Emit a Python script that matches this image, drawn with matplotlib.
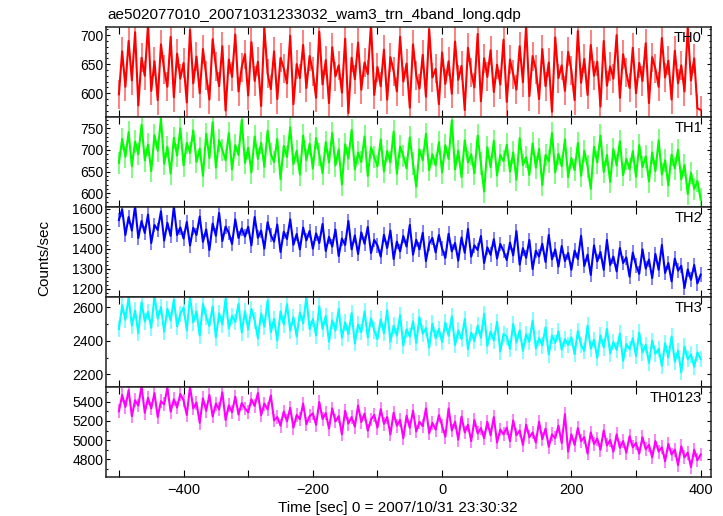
import matplotlib
matplotlib.use('Agg')
import matplotlib.pyplot as plt
from matplotlib.ticker import MultipleLocator
import numpy as np

plt.rcParams['font.family'] = ['Liberation Sans', 'DejaVu Sans']

# ---------------------------------------------------------------------------
# data (count rates, one value every 5 s)
# ---------------------------------------------------------------------------
t_start = -500
t_step = 5

th0 = [
    598, 672, 611, 690, 622, 705, 579, 661, 630, 718, 604, 655, 588, 684, 640, 611, 697, 593, 668, 625,
    652, 584, 709, 617, 663, 600, 676, 631, 589, 693, 646, 612, 681, 570, 658, 628, 701, 603, 645, 667,
    596, 688, 621, 654, 578, 712, 634, 607, 672, 590, 661, 643, 617, 699, 581, 650, 626, 683, 609, 664,
    637, 592, 706, 615, 657, 583, 679, 629, 648, 601, 694, 566, 661, 624, 687, 606, 653, 633, 719, 597,
    645, 612, 675, 589, 662, 638, 603, 697, 620, 651, 575, 684, 631, 608, 666, 594, 710, 627, 642, 581,
    670, 616, 655, 599, 689, 623, 647, 571, 678, 636, 610, 702, 586, 660, 628, 674, 602, 649, 615, 692,
    585, 658, 633, 606, 681, 619, 716, 595, 664, 641, 590, 676, 612, 653, 568, 696, 626, 648, 604, 671,
    639, 588, 707, 618, 659, 597, 683, 630, 654, 577, 690, 613, 646, 625, 700, 592, 667, 635, 609, 678,
    600, 652, 621, 686, 583, 662, 642, 611, 695, 627, 656, 589, 673, 617, 648, 603, 713, 622, 660, 574,
    571,
]

th1 = [
    670, 725, 684, 741, 662, 719, 690, 758, 676, 712, 651, 734, 698, 772, 668, 707, 645, 728, 687, 750,
    664, 716, 693, 745, 672, 703, 640, 737, 681, 764, 659, 722, 700, 676, 739, 655, 711, 688, 769, 670,
    705, 648, 731, 679, 716, 661, 744, 690, 672, 725, 632, 709, 684, 752, 667, 698, 643, 733, 676, 714,
    657, 727, 689, 646, 718, 671, 739, 664, 701, 620, 713, 680, 746, 655, 694, 672, 731, 640, 706, 683,
    662, 724, 650, 697, 671, 742, 645, 708, 686, 657, 729, 668, 615, 701, 676, 737, 653, 690, 664, 718,
    648, 711, 679, 768, 655, 698, 637, 722, 671, 690, 646, 733, 668, 604, 706, 660, 721, 641, 688, 674,
    712, 650, 694, 631, 727, 665, 683, 642, 715, 659, 702, 619, 688, 673, 739, 648, 691, 662, 724, 637,
    681, 653, 716, 640, 698, 662, 610, 707, 671, 733, 649, 688, 626, 702, 664, 720, 642, 679, 655, 697,
    638, 711, 660, 685, 627, 694, 651, 722, 643, 676, 618, 689, 657, 700, 632, 665, 598, 647, 610, 628,
    585,
]

th2 = [
    1545, 1598, 1470, 1560, 1492, 1615, 1455, 1540, 1480, 1572, 1430, 1520, 1495, 1588, 1442, 1531, 1465, 1612, 1470, 1508,
    1452, 1535, 1418, 1506, 1470, 1562, 1436, 1498, 1395, 1527, 1466, 1580, 1440, 1512, 1480, 1425, 1548, 1455, 1503, 1462,
    1511, 1418, 1560, 1456, 1492, 1402, 1534, 1470, 1437, 1522, 1385, 1486, 1450, 1548, 1421, 1475, 1398, 1507, 1443, 1490,
    1402, 1478, 1430, 1525, 1390, 1461, 1412, 1497, 1365, 1452, 1420, 1540, 1398, 1468, 1375, 1483, 1426, 1510, 1380, 1445,
    1418, 1362, 1471, 1405, 1492, 1350, 1437, 1388, 1465, 1412, 1520, 1372, 1446, 1398, 1481, 1340, 1426, 1455, 1383, 1470,
    1402, 1355, 1476, 1388, 1430, 1342, 1458, 1381, 1500, 1362, 1418, 1395, 1465, 1330, 1408, 1371, 1449, 1352, 1425, 1390,
    1345, 1432, 1368, 1489, 1322, 1404, 1356, 1445, 1300, 1391, 1362, 1426, 1335, 1470, 1348, 1398, 1312, 1415, 1340, 1380,
    1296, 1392, 1350, 1466, 1315, 1372, 1270, 1418, 1338, 1385, 1296, 1445, 1320, 1362, 1288, 1405, 1330, 1358, 1262, 1382,
    1318, 1276, 1398, 1302, 1347, 1255, 1375, 1296, 1420, 1280, 1330, 1238, 1352, 1292, 1316, 1205, 1298, 1246, 1320, 1228,
    1272,
]

th3 = [
    2470, 2612, 2525, 2658, 2490, 2580, 2445, 2630, 2515, 2572, 2478, 2667, 2532, 2600, 2455, 2590, 2520, 2645, 2486, 2560,
    2598, 2462, 2664, 2510, 2575, 2431, 2620, 2540, 2488, 2605, 2420, 2563, 2497, 2650, 2472, 2548, 2512, 2620, 2450, 2575,
    2468, 2590, 2520, 2415, 2562, 2485, 2640, 2451, 2530, 2402, 2575, 2498, 2618, 2460, 2540, 2425, 2568, 2505, 2660, 2470,
    2530, 2432, 2605, 2470, 2548, 2395, 2522, 2460, 2590, 2418, 2510, 2440, 2565, 2385, 2496, 2452, 2575, 2420, 2533, 2462,
    2410, 2528, 2445, 2580, 2395, 2490, 2430, 2552, 2372, 2468, 2425, 2515, 2388, 2540, 2442, 2475, 2360, 2502, 2415, 2470,
    2392, 2508, 2430, 2545, 2375, 2462, 2410, 2530, 2350, 2448, 2398, 2490, 2418, 2560, 2370, 2455, 2402, 2512, 2336, 2440,
    2425, 2352, 2500, 2390, 2462, 2340, 2438, 2395, 2520, 2355, 2415, 2372, 2480, 2318, 2430, 2388, 2455, 2346, 2410, 2375,
    2420, 2320, 2458, 2375, 2340, 2490, 2352, 2405, 2298, 2432, 2360, 2470, 2325, 2392, 2345, 2442, 2280, 2380, 2350, 2415,
    2310, 2448, 2330, 2375, 2268, 2400, 2322, 2352, 2250, 2385, 2300, 2425, 2275, 2340, 2212, 2365, 2290, 2318, 2245, 2330,
    2290,
]

th0123 = [
    5300, 5470, 5345, 5520, 5250, 5415, 5360, 5560, 5285, 5440, 5330, 5490, 5240, 5405, 5372, 5545, 5296, 5425, 5340, 5480,
    5412, 5262, 5555, 5330, 5390, 5180, 5435, 5305, 5470, 5245, 5380, 5320, 5498, 5210, 5362, 5290, 5452, 5266, 5385, 5330,
    5290, 5425, 5355, 5490, 5260, 5380, 5320, 5465, 5205, 5240, 5150, 5298, 5196, 5335, 5130, 5262, 5218, 5380, 5165, 5250,
    5278, 5160, 5395, 5220, 5282, 5120, 5330, 5195, 5250, 5060, 5305, 5172, 5240, 5140, 5360, 5188, 5276, 5098, 5215, 5262,
    5130, 5322, 5170, 5240, 5060, 5285, 5150, 5210, 5020, 5255, 5128, 5305, 5090, 5190, 5145, 5330, 5072, 5180, 5108, 5260,
    5150, 5035, 5330, 5100, 5190, 5005, 5245, 5080, 5160, 4990, 5210, 5070, 5125, 5020, 5190, 5050, 5240, 4975, 5110, 5060,
    5130, 4990, 5205, 5050, 5100, 4950, 5160, 5030, 5080, 4975, 5190, 5010, 5120, 4930, 5060, 5020, 5150, 4970, 5270, 4880,
    5060, 4950, 5125, 4990, 5030, 4860, 5080, 4960, 5015, 4900, 5100, 4945, 5000, 4880, 5060, 4920, 4990, 4870, 5040, 4925,
    4970, 4860, 5030, 4905, 4950, 4820, 4990, 4880, 4925, 4780, 4960, 4850, 4900, 4740, 4935, 4820, 4870, 4720, 4900, 4790,
    4850,
]

# 1-sigma statistical error of a 1 s bin, per band
rate_err = [25, 26, 37, 49, 72]

band_names = ['TH0', 'TH1', 'TH2', 'TH3', 'TH0123']

# ---------------------------------------------------------------------------
# panel styles
# ---------------------------------------------------------------------------
COLORS = ['#ff0000', '#00ff00', '#0000ff', '#00ffff', '#ff00ff']
YLIMS = [(559, 714), (568, 776), (1160, 1610), (2124, 2661), (4616, 5553)]
YMAJOR = [50, 50, 100, 200, 200]
YMINOR = [10, 10, 20, 100, 100]

series = [th0, th1, th2, th3, th0123]

fig, axes = plt.subplots(5, 1, sharex=True, figsize=(7.23, 5.16), dpi=100,
                         gridspec_kw={'hspace': 0})
fig.subplots_adjust(left=106/723, right=711/723, top=1-27/516, bottom=1-477/516)

for i, ax in enumerate(axes):
    y = np.array(series[i], dtype=float)
    t = t_start + t_step * np.arange(len(y))
    # qdp style: error bars + connecting line
    ax.errorbar(t, y, yerr=rate_err[i], fmt='none', ecolor=COLORS[i],
                elinewidth=1.4, alpha=0.5, capsize=0)
    ax.plot(t, y, color=COLORS[i], lw=1.5)
    ax.set_ylim(*YLIMS[i])
    ax.yaxis.set_major_locator(MultipleLocator(YMAJOR[i]))
    ax.yaxis.set_minor_locator(MultipleLocator(YMINOR[i]))
    ax.xaxis.set_major_locator(MultipleLocator(200))
    ax.xaxis.set_minor_locator(MultipleLocator(100))
    ax.tick_params(axis='y', which='major', direction='in', length=3,
                   width=0.8, right=True, labelsize=10, pad=2)
    ax.tick_params(axis='y', which='minor', direction='in', length=1.5,
                   width=0.8, right=True)
    ax.tick_params(axis='x', which='both', direction='in', length=5,
                   width=0.8, top=True, labelsize=10.5, pad=4)
    for sp in ax.spines.values():
        sp.set_linewidth(1.1)
        sp.set_color('#222222')
        sp.set_zorder(3)
    ax.text(0.985, 0.96, band_names[i], transform=ax.transAxes,
            ha='right', va='top', fontsize=10.5, zorder=4)

axes[-1].set_xlim(-520, 416)

fig.text(107/723, 1-15/516, 'ae502077010_20071031233032_wam3_trn_4band_long.qdp',
         ha='left', va='center', fontsize=11)
fig.text(44/723, 1-258/516, 'Counts/sec', rotation=90,
         ha='center', va='center', fontsize=11)
fig.text(398/723, 1-508/516, 'Time [sec] 0 = 2007/10/31 23:30:32',
         ha='center', va='center', fontsize=11)

plt.savefig('out.png', dpi=100, facecolor='white')
